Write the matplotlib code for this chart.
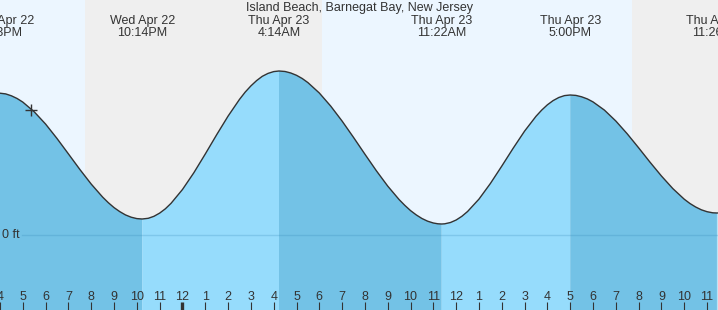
import numpy as np
import matplotlib
matplotlib.use('Agg')
import matplotlib.pyplot as plt
import matplotlib.transforms as mtransforms

# hours since Apr 22 00:00, tide height in ft
hours = [
    15.88, 16.0, 16.25, 16.5, 16.75, 17.0, 17.5, 18.0, 18.5, 19.0, 19.5, 20.0,
    20.5, 20.75, 21.0, 21.25, 21.5, 21.75, 22.0, 22.233,
    22.5, 22.75, 23.0, 23.25, 23.5, 24.0, 24.5, 25.0, 25.5, 26.0, 26.5,
    26.75, 27.0, 27.25, 27.5, 27.75, 28.0, 28.233,
    28.5, 28.75, 29.0, 29.25, 29.5, 30.0, 30.5, 31.0, 31.5, 32.0, 32.5, 33.0, 33.5,
    33.75, 34.0, 34.25, 34.5, 34.75, 35.0, 35.2, 35.367,
    35.5, 35.75, 36.0, 36.25, 36.5, 37.0, 37.5, 38.0, 38.5, 39.0, 39.5,
    39.75, 40.0, 40.25, 40.5, 40.75, 41.0,
    41.25, 41.5, 41.75, 42.0, 42.5, 43.0, 43.5, 44.0, 44.5, 45.0, 45.5, 46.0,
    46.25, 46.5, 46.75, 47.0, 47.25, 47.433, 47.6,
]
heights = [
    1.42, 1.418, 1.411, 1.392, 1.365, 1.329, 1.232, 1.109, 0.965, 0.811, 0.656, 0.509,
    0.379, 0.323, 0.274, 0.234, 0.201, 0.178, 0.164, 0.16,
    0.167, 0.187, 0.219, 0.262, 0.317, 0.455, 0.623, 0.810, 1.003, 1.189, 1.356,
    1.429, 1.491, 1.544, 1.587, 1.616, 1.634, 1.64,
    1.635, 1.620, 1.597, 1.565, 1.524, 1.420, 1.289, 1.139, 0.976, 0.808, 0.643, 0.489, 0.354,
    0.296, 0.244, 0.201, 0.165, 0.138, 0.120, 0.112, 0.11,
    0.112, 0.125, 0.150, 0.187, 0.235, 0.359, 0.515, 0.689, 0.868, 1.039, 1.187,
    1.249, 1.302, 1.344, 1.375, 1.394, 1.40,
    1.396, 1.382, 1.361, 1.331, 1.249, 1.140, 1.012, 0.872, 0.728, 0.590, 0.464, 0.358,
    0.315, 0.280, 0.252, 0.233, 0.222, 0.22, 0.221,
]

# high / low tide events
ext_hours = [16.05, 22.233, 28.233, 35.367, 41.0, 47.433]
ext_labels = [
    'Wed Apr 22\n4:03PM', 'Wed Apr 22\n10:14PM', 'Thu Apr 23\n4:14AM',
    'Thu Apr 23\n11:22AM', 'Thu Apr 23\n5:00PM', 'Thu Apr 23\n11:26PM',
]

# sunset / sunrise
night_start = [19.705, 43.71]
night_end = [30.11, 48.5]

now_hour = 17.38
now_height = 1.25

tick_hours = list(range(16, 48))
tick_labels = [str((h - 1) % 12 + 1) for h in tick_hours]

title = 'Island Beach, Barnegat Bay, New Jersey'

day_col = '#ecf6ff'
night_col = '#efefef'
fall_col = '#73c2e6'
rise_col = '#96dcfc'
text_col = '#333333'

t = np.array(hours)
h = np.array(heights)

fig = plt.figure(figsize=(7.18, 3.10), dpi=100)
ax = fig.add_axes([0, 0, 1, 1])
x0, x1 = 16.0, 47.48
ymin, ymax = -0.75, 2.35
ax.set_xlim(x0, x1)
ax.set_ylim(ymin, ymax)
ax.set_facecolor(day_col)
for s, e in zip(night_start, night_end):
    ax.axvspan(s, e, color=night_col, lw=0, zorder=0)

# tide fill, darker when falling, lighter when rising
bounds = [t[0]] + ext_hours[1:]
for i in range(len(bounds) - 1):
    a, b = bounds[i], bounds[i + 1]
    m = (t >= a - 1e-6) & (t <= b + 1e-6)
    col = fall_col if i % 2 == 0 else rise_col
    ax.fill_between(t[m], h[m], ymin - 1, color=col, lw=0, zorder=1)
m = t >= bounds[-1] - 1e-6
ax.fill_between(t[m], h[m], ymin - 1, color=rise_col, lw=0, zorder=1)

ax.plot(t, h, color=text_col, lw=1.0, zorder=3, solid_joinstyle='round')
ax.axhline(0, xmin=22 / 718, color='#2b7fb0', alpha=0.22, lw=1, zorder=2)
ax.plot([now_hour], [now_height], marker='+', ms=9, mew=1.0, color=text_col, zorder=4)

trans = mtransforms.blended_transform_factory(ax.transAxes, ax.transData)
ax.text(2 / 718, 0, '0 ft', transform=trans, ha='left', va='center',
        fontsize=9, color=text_col, family='Liberation Sans')

ttrans = mtransforms.blended_transform_factory(ax.transData, ax.transAxes)
for x, lab in zip(ext_hours, ext_labels):
    ax.text(x, 1 - 15 / 310, lab, transform=ttrans, ha='center', va='top',
            fontsize=9, color=text_col, family='Liberation Sans', linespacing=1.0)
ax.text(0.5, 1 - 2 / 310, title, transform=ax.transAxes, ha='center', va='top',
        fontsize=9, color=text_col, family='Liberation Sans')

ax.set_xticks(tick_hours)
ax.set_xticklabels(tick_labels, family='Liberation Sans')
ax.tick_params(axis='x', direction='in', length=6, width=0.8, pad=-14,
               labelsize=9, colors=text_col)
for tk, hr in zip(ax.xaxis.get_major_ticks(), tick_hours):
    if hr == 24:
        tk.tick1line.set_markeredgewidth(2.4)
ax.set_yticks([])
for sp in ax.spines.values():
    sp.set_visible(False)

fig.savefig('out.png', dpi=100)
